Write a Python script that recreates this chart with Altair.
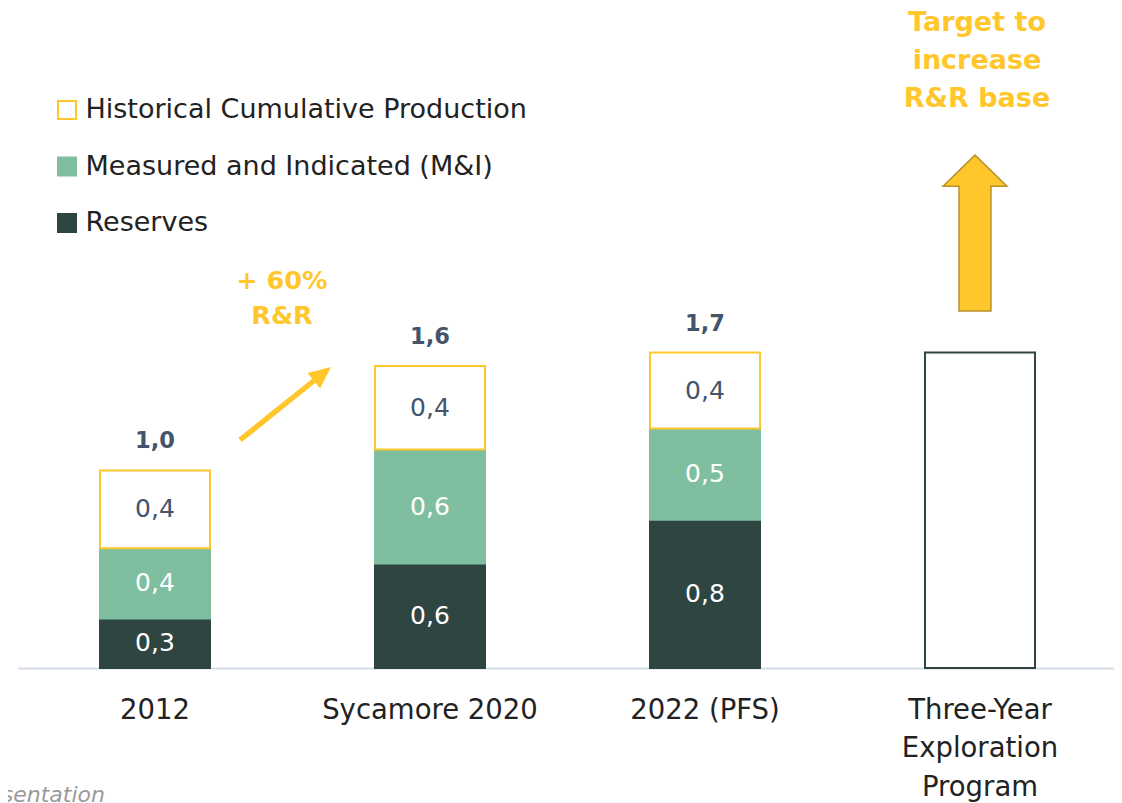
import altair as alt
import pandas as pd

# ---------------- data ----------------
categories = ["2012", "Sycamore 2020", "2022 (PFS)", "Three-Year Exploration Program"]
series = ["Historical Cumulative Production", "Measured and Indicated (M&I)", "Reserves"]

reserves = [0.26, 0.55, 0.78]
measured_indicated = [0.37, 0.60, 0.48]
historical = [0.41, 0.44, 0.40]

reserves_labels = ["0,3", "0,6", "0,8"]
mi_labels = ["0,4", "0,6", "0,5"]
hist_labels = ["0,4", "0,4", "0,4"]
total_labels = ["1,0", "1,6", "1,7"]

target_total = 1.66  # Three-Year Exploration Program outline bar

growth_text = ["+ 60%", "R&R"]
growth_levels = [2.037, 1.853]
target_text = ["Target to", "increase", "R&R base"]
target_levels = [3.395, 3.195, 2.995]
big_arrow_level = 2.289
small_arrow_level = 1.392

YELLOW = "#ffc72c"
GREEN = "#7fbf9f"
DARK = "#2f4542"
SLATE = "#44546a"
FONT = "DejaVu Sans"

# ---------------- tables ----------------
rows = []
for i, cat in enumerate(categories[:3]):
    base = 0.0
    for ser, vals, labs, ordv, tcol in [
        (series[2], reserves, reserves_labels, 0, "white"),
        (series[1], measured_indicated, mi_labels, 1, "white"),
        (series[0], historical, hist_labels, 2, SLATE),
    ]:
        v = vals[i]
        rows.append(dict(cat=cat, series=ser, value=v, ord=ordv, label=labs[i],
                         mid=base + v / 2, tcolor=tcol))
        base += v
seg = pd.DataFrame(rows)

totals = pd.DataFrame(dict(
    cat=categories[:3],
    total=[reserves[i] + measured_indicated[i] + historical[i] for i in range(3)],
    label=total_labels,
))
target = pd.DataFrame(dict(cat=[categories[3]], y0=[0.0], y1=[target_total]))
growth = pd.DataFrame(dict(cat=[categories[0]] * 2, y=growth_levels, text=growth_text))
tgt_txt = pd.DataFrame(dict(cat=[categories[3]] * 3, y=target_levels, text=target_text))
big_arrow = pd.DataFrame(dict(cat=[categories[3]], y=[big_arrow_level]))
small_arrow = pd.DataFrame(dict(cat=[categories[0]], y=[small_arrow_level]))
foot = pd.DataFrame(dict(text=["Source: Company presentation"]))

PLOT_W = 1096
PLOT_H = 660
YMAX = PLOT_H / 190

X = alt.X(
    "cat:N",
    sort=categories,
    scale=alt.Scale(domain=categories, paddingInner=0.6, paddingOuter=0.2927, align=0.5124),
    axis=alt.Axis(
        title=None,
        ticks=False,
        domainColor="#d6dee8",
        domainWidth=2,
        labelAngle=0,
        labelFont=FONT,
        labelFontSize=27.5,
        labelColor="#222222",
        labelPadding=28,
        labelLineHeight=38.5,
        labelBaseline="top",
        labelLimit=400,
        labelExpr="datum.label == 'Three-Year Exploration Program' ? ['Three-Year', 'Exploration', 'Program'] : datum.label",
    ),
)
YS = alt.Scale(domain=[0, YMAX], nice=False, zero=True)

bars = alt.Chart(seg).mark_bar(strokeWidth=2).encode(
    x=X,
    y=alt.Y("value:Q", stack="zero", scale=YS, axis=None),
    order=alt.Order("ord:Q", sort="ascending"),
    fill=alt.Fill("series:N", scale=alt.Scale(domain=series, range=["white", GREEN, DARK]),
                  legend=alt.Legend(title=None)),
    stroke=alt.Stroke("series:N", scale=alt.Scale(domain=series, range=[YELLOW, GREEN, DARK]),
                      legend=alt.Legend(title=None)),
)

seg_text = alt.Chart(seg).mark_text(font=FONT, fontSize=25, baseline="middle").encode(
    x=X,
    y=alt.Y("mid:Q", scale=YS),
    text="label:N",
    color=alt.Color("tcolor:N", scale=None),
)

total_text = alt.Chart(totals).mark_text(font=FONT, fontSize=22.5, fontWeight="bold",
                                         color=SLATE, baseline="middle", dy=-29).encode(
    x=X, y=alt.Y("total:Q", scale=YS), text="label:N"
)

target_bar = alt.Chart(target).mark_bar(fill="white", stroke=DARK, strokeWidth=2).encode(
    x=X, y=alt.Y("y0:Q", scale=YS), y2="y1:Q"
)

growth_layer = alt.Chart(growth).mark_text(font=FONT, fontSize=25.5, fontWeight="bold",
                                           color=YELLOW, baseline="middle", dx=127).encode(
    x=X, y=alt.Y("y:Q", scale=YS), text="text:N"
)

target_layer = alt.Chart(tgt_txt).mark_text(font=FONT, fontSize=27, fontWeight="bold",
                                            color=YELLOW, baseline="middle", dx=-3).encode(
    x=X, y=alt.Y("y:Q", scale=YS), text="text:N"
)

big_arrow_path = "M0,-1L0.41,-0.6L0.205,-0.6L0.205,1L-0.205,1L-0.205,-0.6L-0.41,-0.6Z"
big_arrow_layer = alt.Chart(big_arrow).mark_point(
    shape=big_arrow_path, size=24336, filled=True, fill=YELLOW, stroke="#b8922a",
    strokeWidth=1.5, opacity=1, xOffset=-5,
).encode(x=X, y=alt.Y("y:Q", scale=YS))

small_arrow_path = ("M-0.944,0.688L0.533,-0.497L0.442,-0.611L0.910,-0.730"
                    "L0.692,-0.299L0.601,-0.413L-0.876,0.772Z")
small_arrow_layer = alt.Chart(small_arrow).mark_point(
    shape=small_arrow_path, size=10000, filled=True, fill=YELLOW, strokeWidth=0,
    opacity=1, xOffset=130.5,
).encode(x=X, y=alt.Y("y:Q", scale=YS))

foot_layer = alt.Chart(foot).mark_text(font=FONT, fontSize=22, fontStyle="italic",
                                       color="#9a9a9a", align="right",
                                       baseline="alphabetic").encode(
    x=alt.value(87.5), y=alt.value(794), text="text:N"
)

chart = alt.layer(
    bars, seg_text, total_text, target_bar, growth_layer, target_layer,
    big_arrow_layer, small_arrow_layer, foot_layer,
).properties(
    width=PLOT_W,
    height=PLOT_H,
    autosize=alt.AutoSizeParams(type="none"),
    padding={"left": 9.5, "top": 0, "right": 0.5, "bottom": 135},
).configure_view(stroke=None).configure_legend(
    orient="none",
    legendX=36,
    legendY=88.5,
    padding=0,
    symbolType="square",
    symbolSize=324,
    symbolStrokeWidth=2,
    labelFont=FONT,
    labelFontSize=27,
    labelColor="#222222",
    labelOffset=5,
    rowPadding=28.5,
    labelLimit=600,
)

chart.save("out.html", embed_options={"renderer": "svg", "actions": False})
